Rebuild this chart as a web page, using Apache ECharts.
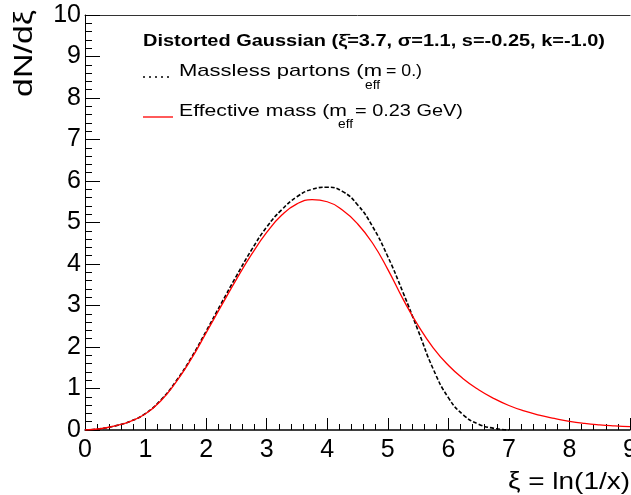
<!DOCTYPE html>
<html>
<head>
<meta charset="utf-8">
<script src="https://cdn.jsdelivr.net/npm/echarts@6/dist/echarts.min.js"></script>
<style>
html,body{margin:0;padding:0;background:#fff;}
#chart{width:631px;height:495px;}
</style>
</head>
<body>
<div id="chart"></div>
<script>
// x values (xi)
var xiMassless = [0,0.25,0.5,0.75,1.0,1.25,1.5,1.75,2.0,2.25,2.5,2.75,3.0,3.25,3.5,3.75,4.0,4.25,4.5,4.75,5.0,5.25,5.5,5.75,6.0,6.25,6.5,6.75,7.0];
var dndxiMassless = [0,0.03,0.10,0.21,0.40,0.72,1.17,1.73,2.38,3.05,3.71,4.34,4.89,5.31,5.62,5.80,5.85,5.75,5.43,4.90,4.18,3.32,2.40,1.47,0.78,0.36,0.14,0.04,0.0];
var xiEffective = [0,0.25,0.5,0.75,1.0,1.25,1.5,1.75,2.0,2.25,2.5,2.75,3.0,3.25,3.5,3.75,4.0,4.25,4.5,4.75,5.0,5.25,5.5,5.75,6.0,6.25,6.5,6.75,7.0,7.25,7.5,7.75,8.0,8.25,8.5,8.75,9.0];
var dndxiEffective = [0,0.03,0.10,0.21,0.39,0.70,1.15,1.70,2.34,2.99,3.63,4.23,4.76,5.18,5.45,5.55,5.50,5.30,4.97,4.50,3.87,3.16,2.52,1.98,1.56,1.23,0.97,0.76,0.59,0.46,0.36,0.28,0.21,0.16,0.125,0.10,0.08];
var xTicks = [0,1,2,3,4,5,6,7,8,9];
var yTicks = [0,1,2,3,4,5,6,7,8,9,10];
var legendTitle = 'Distorted Gaussian (\u03BE\u0304=3.7, \u03C3=1.1, s=-0.25, k=-1.0)';
var legend1 = ['Massless partons (m', 'eff', '= 0.)'];
var legend2 = ['Effective mass (m', 'eff', '= 0.23 GeV)'];
var xTitle = '\u03BE = ln(1/x)';
var yTitle = 'dN/d\u03BE';

function pairs(xs, ys){ return xs.map(function(x,i){ return [x, ys[i]]; }); }

var ctx = document.createElement('canvas').getContext('2d');
function fitScale(text, font, target){
  ctx.font = font;
  var w = ctx.measureText(text).width;
  return w > 0 ? target / w : 1;
}
function txt(text, font, x, y, targetW, align, rotation){
  return {type:'text', x:x, y:y, rotation: rotation || 0,
    scaleX: targetW ? fitScale(text, font, targetW) : 1,
    style:{text:text, font:font, fill:'#000', align:align || 'left', verticalAlign:'middle'}};
}

var F = '"Liberation Sans", Arial, sans-serif';
var chart = echarts.init(document.getElementById('chart'), null, {renderer:'canvas'});
var option = {
  backgroundColor:'#fff',
  animation:false,
  grid:{left:85, top:15, right:1, bottom:65, containLabel:false, outerBoundsMode:'none'},
  xAxis:[{
    type:'value', min:xTicks[0], max:xTicks[xTicks.length-1], interval:1,
    axisLine:{show:true, onZero:false, lineStyle:{color:'#000', width:1.5}},
    axisTick:{show:true, inside:true, length:12, lineStyle:{color:'#000', width:1}},
    minorTick:{show:true, splitNumber:5, length:6, lineStyle:{color:'#000', width:1}},
    splitLine:{show:false},
    axisLabel:{show:true, margin:8, color:'#000', fontSize:25, fontFamily:'Liberation Sans', showMaxLabel:true, showMinLabel:true, hideOverlap:false}
  },{
    type:'value', position:'top', min:0, max:9,
    axisLine:{show:true, onZero:false, lineStyle:{color:'#333', width:1}},
    axisTick:{show:false}, axisLabel:{show:false}, splitLine:{show:false}
  }],
  yAxis:{
    type:'value', min:yTicks[0], max:yTicks[yTicks.length-1], interval:1,
    axisLine:{show:true, onZero:false, lineStyle:{color:'#000', width:1}},
    axisTick:{show:true, inside:true, length:15, lineStyle:{color:'#000', width:1}},
    minorTick:{show:true, splitNumber:5, length:7, lineStyle:{color:'#000', width:1}},
    splitLine:{show:false},
    axisLabel:{show:true, margin:4, color:'#000', fontSize:25, fontFamily:'Liberation Sans', showMaxLabel:true, showMinLabel:true, hideOverlap:false}
  },
  series:[{
    type:'line', name:'Massless', data:pairs(xiMassless, dndxiMassless), smooth:0.5,
    showSymbol:false, lineStyle:{color:'#000', width:1.6, type:[4,2]}, z:3
  },{
    type:'line', name:'Effective', data:pairs(xiEffective, dndxiEffective), smooth:0.5,
    showSymbol:false, lineStyle:{color:'#ff0000', width:1.3}, z:4
  }],
  graphic:[
    txt(yTitle, '26px ' + F, 25, 10, 87, 'right', Math.PI/2),
    txt(xTitle, '24px ' + F, 508, 482, 122),
    txt(legendTitle, 'bold 16px ' + F, 143, 42, 462),
    {type:'line', shape:{x1:143, y1:77, x2:173, y2:77}, style:{stroke:'#000', lineWidth:1.5, lineDash:[2,4]}},
    txt(legend1[0], '17px ' + F, 179, 71, 203),
    txt(legend1[1], '13px ' + F, 365, 85, 15),
    txt(legend1[2], '17px ' + F, 386, 71, 36),
    {type:'line', shape:{x1:143, y1:117, x2:173, y2:117}, style:{stroke:'#ff0000', lineWidth:1.3}},
    txt(legend2[0], '17px ' + F, 179, 111, 168),
    txt(legend2[1], '13px ' + F, 338, 124, 15),
    txt(legend2[2], '17px ' + F, 355, 111, 108)
  ]
};
chart.setOption(option);
</script>
</body>
</html>
